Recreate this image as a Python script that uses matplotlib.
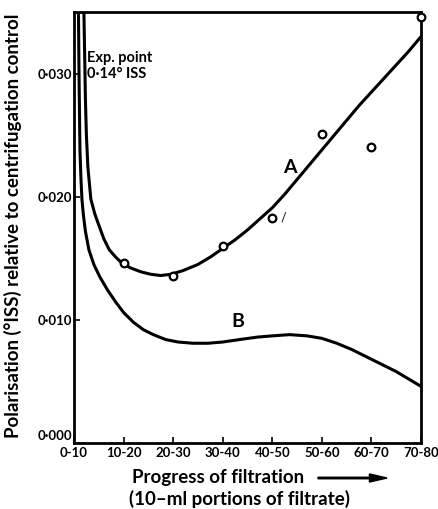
import matplotlib
matplotlib.use("Agg")
import matplotlib.pyplot as plt
from matplotlib.transforms import ScaledTranslation

plt.rcParams['font.family'] = ['Lato', 'DejaVu Sans']

# categories (x tick labels)
portions = ["0-10", "10-20", "20-30", "30-40", "40-50", "50-60", "60-70", "70-80"]
ytick_vals = [0.000, 0.010, 0.020, 0.030]
ytick_labels = ["0·000", "0·010", "0·020", "0·030"]

# experimental points (curve A)
pt_x = [1, 2, 3, 4, 5, 6, 7]
pt_y = [0.0146, 0.0136, 0.0160, 0.0183, 0.0251, 0.0240, 0.0346]

# curve A
a_x = [0.20, 0.21, 0.22, 0.23, 0.25, 0.28, 0.34, 0.42, 0.50, 0.60, 0.71, 0.84, 0.97, 1.15, 1.35, 1.55, 1.75, 1.95, 2.20, 2.50, 2.75, 3.00, 3.25, 3.50, 3.75, 4.00, 4.25, 4.50, 4.75, 5.00, 5.25, 5.50, 5.75, 6.00, 6.25, 6.50, 6.75, 7.00]
a_y = [0.0350, 0.0326, 0.0304, 0.0280, 0.0250, 0.0224, 0.0198, 0.0186, 0.0177, 0.0166, 0.0157, 0.0151, 0.0146, 0.0142, 0.0139, 0.0137, 0.0136, 0.0137, 0.0140, 0.0145, 0.0151, 0.0158, 0.0165, 0.0173, 0.0182, 0.0191, 0.0202, 0.0214, 0.0226, 0.0238, 0.0250, 0.0262, 0.0274, 0.0285, 0.0296, 0.0307, 0.0318, 0.0330]

# curve B
b_x = [0.09, 0.10, 0.11, 0.12, 0.14, 0.16, 0.19, 0.23, 0.30, 0.40, 0.52, 0.68, 0.85, 1.00, 1.20, 1.40, 1.60, 1.85, 2.10, 2.40, 2.70, 3.00, 3.34, 3.70, 4.00, 4.35, 4.70, 5.00, 5.30, 5.60, 6.00, 6.50, 7.00]
b_y = [0.0350, 0.0304, 0.0270, 0.0238, 0.0215, 0.0198, 0.0185, 0.0172, 0.0157, 0.0145, 0.0135, 0.0124, 0.0114, 0.0106, 0.0098, 0.0092, 0.0088, 0.0084, 0.0082, 0.0081, 0.0081, 0.0082, 0.0084, 0.0086, 0.0087, 0.0088, 0.0087, 0.0085, 0.0081, 0.0076, 0.0068, 0.0058, 0.0046]

fig = plt.figure(figsize=(4.39, 5.09), dpi=100)
ax = fig.add_axes([74/439, 66/509, 347/439, 431/509])

ax.plot(a_x, a_y, color='black', lw=2.2, solid_capstyle='round', solid_joinstyle='round')
ax.plot(b_x, b_y, color='black', lw=2.2, solid_capstyle='round', solid_joinstyle='round')
ax.plot(pt_x, pt_y, linestyle='none', marker='o', ms=5.5, mfc='white', mec='black', mew=1.6, clip_on=False, zorder=5)

ax.set_xlim(0, 7)
ax.set_ylim(0, 0.035)
ax.set_xticks(range(len(portions)))
ax.set_xticklabels(portions, fontsize=9.5, fontweight='bold')
ax.set_yticks(ytick_vals)
ax.set_yticklabels(ytick_labels, fontsize=9.5, fontweight='bold')
ax.tick_params(direction='in', length=4, width=1.2)
ax.tick_params(axis='y', pad=1.5)
ax.tick_params(axis='x', pad=3)
for s in ax.spines.values():
    s.set_linewidth(2)
# lift the 0·000 label slightly, as in the original
ylabs = ax.get_yticklabels()
ylabs[0].set_transform(ylabs[0].get_transform() + ScaledTranslation(0, 6/72, fig.dpi_scale_trans))

ax.text(4.36, 0.0224, "A", fontsize=14, fontweight='bold', ha='center', va='center')
ax.text(3.3, 0.0099, "B", fontsize=14, fontweight='bold', ha='center', va='center')
ax.text(4.22, 0.0183, "/", fontsize=9, ha='center', va='center')
ax.text(0.26, 0.0306, "Exp. point\n0·14° ISS", fontsize=10.5, fontweight='bold', ha='left', va='center', linespacing=1.15)

fig.text(13/439, 1 - 226/509, "Polarisation (°ISS) relative to centrifugation control",
         fontsize=13.5, fontweight='bold', rotation=90, ha='center', va='center')

fig.text(218/439, 1 - 478/509, "Progress of filtration", fontsize=13.5, fontweight='bold', ha='center', va='center')
fig.text(240/439, 1 - 499/509, "(10–ml portions of filtrate)", fontsize=13.5, fontweight='bold', ha='center', va='center')
fig.patches.append(matplotlib.patches.FancyArrow(318/439, 1 - 478/509, 69/439, 0, width=0.003,
                                                  head_width=0.016, head_length=0.04, length_includes_head=True,
                                                  transform=fig.transFigure, color='black'))

fig.savefig("out.png", dpi=100)
